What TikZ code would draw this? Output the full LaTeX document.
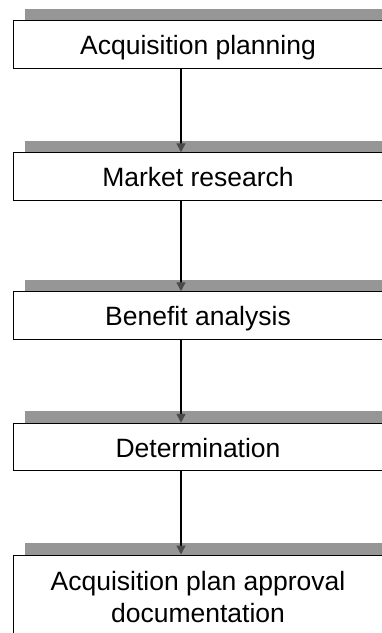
\documentclass[tikz,border=0pt]{standalone}
\usepackage{fontspec}
\setmainfont{Liberation Sans}
\usetikzlibrary{arrows.meta}
\pgfdeclarelayer{shadowlayer}
\pgfdeclarelayer{arrowlayer}
\pgfsetlayers{shadowlayer,arrowlayer,main}
\definecolor{shadowgray}{HTML}{969696}
\definecolor{gridgray}{HTML}{C2C2C2}
\definecolor{tipgray}{HTML}{4A4A4A}
\tikzset{
  stepbox/.style={draw=black, line width=1pt, fill=white, minimum width=370pt,
    minimum height=47.5pt, inner sep=0pt, font=\fontsize{26.5}{30.5}\selectfont,
    text height=23pt, text depth=3pt},
  lasttext/.style={inner sep=0pt, align=center, font=\fontsize{26.5}{32}\selectfont},
  flow/.style={line width=1.4pt, -{Triangle[width=9pt,length=9pt,color=tipgray]}},
}
\newcommand{\boxshadow}[1]{%
  \begin{pgfonlayer}{shadowlayer}
    \fill[shadowgray] ([shift={(12,-11.5)}]#1.south west) rectangle ([shift={(12,-11.5)}]#1.north east);
    \begin{scope}
      \clip ([shift={(12,-11.5)}]#1.south west) rectangle ([shift={(12,-11.5)}]#1.north east);
      \draw[gridgray, line width=0.6pt] (0,0) grid[step=4pt] (400,-700);
    \end{scope}
  \end{pgfonlayer}}
\begin{document}
\begin{tikzpicture}[x=1pt, y=-1pt]
\useasboundingbox (0,0) rectangle (382,633);
\coordinate (xline) at (181,0);
\node[stepbox] (a) at (198,44.3) {Acquisition planning};
\node[stepbox] (b) at (198,176.5) {Market research};
\node[stepbox] (c) at (198,315.5) {Benefit analysis};
\node[stepbox] (d) at (198,447) {Determination};
\node[stepbox, minimum height=125pt] (e) at (198,617.5) {};
\node[lasttext, anchor=north] (et) at (198,571) {Acquisition plan approval\\documentation};
\boxshadow{a}
\boxshadow{b}
\boxshadow{c}
\boxshadow{d}
\boxshadow{e}
\begin{pgfonlayer}{arrowlayer}
\draw[flow] (a.south -| xline) -- (b.north -| xline);
\draw[flow] (b.south -| xline) -- (c.north -| xline);
\draw[flow] (c.south -| xline) -- (d.north -| xline);
\draw[flow] (d.south -| xline) -- (e.north -| xline);
\end{pgfonlayer}
\end{tikzpicture}
\end{document}
